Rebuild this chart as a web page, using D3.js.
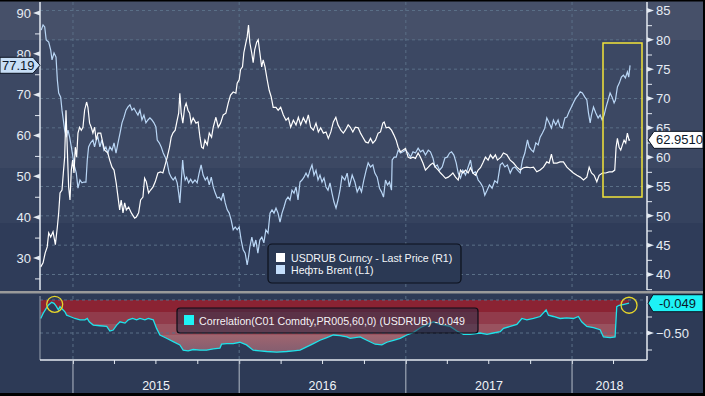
<!DOCTYPE html>
<html>
<head>
<meta charset="utf-8">
<script src="https://cdnjs.cloudflare.com/ajax/libs/d3/7.8.5/d3.min.js"></script>
<style>
  body { margin: 0; background: #000; }
  svg { display: block; }
  text { font-family: "Liberation Sans", Arial, sans-serif; }
</style>
</head>
<body>
<div id="wrapper"></div>
<script>
// [decimal year, value]
const usdrub = [
  [2014.806,41.3],[2014.820,42.0],[2014.833,43.7],[2014.845,44.7],[2014.854,47.1],[2014.866,46.4],[2014.880,47.3],[2014.894,45.1],
  [2014.906,48.1],[2014.914,50.5],[2014.922,53.9],[2014.934,54.4],[2014.942,57.3],[2014.950,60.0],[2014.958,68.0],[2014.966,61.2],
  [2014.974,54.9],[2014.982,52.7],[2014.990,57.8],[2014.998,59.5],[2015.006,57.3],[2015.014,61.7],[2015.022,60.0],[2015.030,64.1],
  [2015.040,65.1],[2015.050,64.6],[2015.060,65.1],[2015.070,68.0],[2015.082,69.4],[2015.090,68.5],[2015.100,65.8],[2015.110,65.1],
  [2015.120,64.1],[2015.130,65.1],[2015.140,62.9],[2015.150,64.1],[2015.167,64.1],[2015.180,62.4],[2015.191,61.2],[2015.210,60.7],
  [2015.221,59.5],[2015.235,58.3],[2015.247,57.8],[2015.260,55.6],[2015.271,53.2],[2015.281,51.0],[2015.290,52.7],[2015.301,50.5],
  [2015.311,52.2],[2015.321,51.0],[2015.335,51.5],[2015.351,50.5],[2015.371,49.6],[2015.381,49.8],[2015.395,50.5],[2015.407,52.7],
  [2015.421,53.2],[2015.431,56.4],[2015.441,55.8],[2015.455,53.9],[2015.467,54.4],[2015.481,54.9],[2015.495,55.8],[2015.511,57.3],
  [2015.527,57.5],[2015.541,57.3],[2015.551,58.3],[2015.567,60.0],[2015.581,61.7],[2015.591,63.4],[2015.601,64.1],[2015.615,64.6],
  [2015.627,66.3],[2015.636,67.5],[2015.643,70.9],[2015.651,67.5],[2015.661,65.8],[2015.672,68.5],[2015.681,69.2],[2015.692,68.0],
  [2015.702,67.5],[2015.711,65.8],[2015.723,66.7],[2015.740,65.8],[2015.753,66.0],[2015.764,63.4],[2015.774,61.7],[2015.784,61.5],
  [2015.794,62.9],[2015.808,62.1],[2015.820,64.1],[2015.834,63.4],[2015.844,65.1],[2015.860,66.8],[2015.874,65.1],[2015.888,65.8],
  [2015.904,67.2],[2015.920,67.5],[2015.934,69.2],[2015.948,70.6],[2015.964,71.1],[2015.980,70.9],[2015.988,72.6],[2016.000,73.2],
  [2016.008,74.9],[2016.020,75.4],[2016.028,77.8],[2016.040,79.5],[2016.048,80.5],[2016.056,82.5],[2016.064,79.5],[2016.075,77.8],
  [2016.084,76.1],[2016.093,78.3],[2016.105,79.6],[2016.114,80.0],[2016.124,77.8],[2016.135,75.4],[2016.144,76.6],[2016.155,75.4],
  [2016.168,73.2],[2016.180,71.4],[2016.192,70.3],[2016.204,68.5],[2016.221,68.5],[2016.234,68.0],[2016.249,68.5],[2016.265,67.2],
  [2016.281,66.3],[2016.295,66.7],[2016.309,65.1],[2016.325,66.3],[2016.341,65.5],[2016.355,66.8],[2016.369,65.5],[2016.385,66.7],
  [2016.401,65.8],[2016.415,67.2],[2016.429,65.1],[2016.445,64.6],[2016.461,65.8],[2016.475,64.3],[2016.489,65.0],[2016.505,64.1],
  [2016.521,64.3],[2016.535,63.2],[2016.550,64.3],[2016.565,66.0],[2016.580,66.8],[2016.593,65.5],[2016.610,64.6],[2016.625,64.1],
  [2016.637,64.6],[2016.654,65.5],[2016.667,65.1],[2016.682,64.3],[2016.697,65.1],[2016.714,65.0],[2016.728,64.1],[2016.742,63.4],
  [2016.758,62.6],[2016.774,62.4],[2016.788,63.2],[2016.802,62.4],[2016.818,62.9],[2016.834,64.1],[2016.848,64.3],[2016.862,65.8],
  [2016.870,66.0],[2016.882,65.0],[2016.898,65.1],[2016.914,64.6],[2016.928,63.8],[2016.942,62.9],[2016.954,61.7],[2016.968,60.9],
  [2016.982,61.2],[2016.998,61.5],[2017.014,60.0],[2017.028,59.8],[2017.043,60.0],[2017.058,59.8],[2017.074,60.7],[2017.088,60.0],
  [2017.103,59.0],[2017.118,57.8],[2017.135,58.3],[2017.148,58.7],[2017.163,59.0],[2017.178,58.3],[2017.195,57.8],[2017.209,57.3],
  [2017.223,56.9],[2017.239,56.4],[2017.255,56.6],[2017.269,56.9],[2017.283,57.3],[2017.299,56.6],[2017.315,56.1],[2017.329,57.8],
  [2017.343,57.3],[2017.359,57.8],[2017.375,57.3],[2017.389,58.2],[2017.403,57.3],[2017.419,56.9],[2017.435,57.8],[2017.449,58.2],
  [2017.463,59.0],[2017.479,60.0],[2017.495,59.5],[2017.509,60.4],[2017.524,59.8],[2017.539,60.4],[2017.551,59.5],[2017.572,60.0],
  [2017.587,60.7],[2017.608,60.4],[2017.628,59.5],[2017.648,59.0],[2017.668,58.3],[2017.688,57.8],[2017.708,58.2],[2017.728,58.3],
  [2017.748,58.2],[2017.768,58.3],[2017.788,57.5],[2017.808,57.8],[2017.828,58.3],[2017.848,59.2],[2017.862,59.0],[2017.876,60.5],
  [2017.888,59.0],[2017.909,59.0],[2017.928,59.2],[2017.948,59.2],[2017.969,58.3],[2017.988,57.8],[2018.008,57.3],[2018.029,56.9],
  [2018.049,56.6],[2018.069,56.1],[2018.089,56.6],[2018.103,58.3],[2018.117,57.3],[2018.133,56.9],[2018.149,55.8],[2018.163,56.9],
  [2018.183,57.3],[2018.203,57.3],[2018.223,57.5],[2018.243,57.5],[2018.257,57.8],[2018.265,61.7],[2018.273,63.2],[2018.283,61.7],
  [2018.293,61.2],[2018.303,62.1],[2018.313,62.9],[2018.323,62.4],[2018.333,64.1],[2018.343,62.9],[2018.349,62.951]
]

const brent = [
  [2014.809,85.8],[2014.820,87.1],[2014.830,86.6],[2014.839,83.4],[2014.854,82.9],[2014.866,80.9],[2014.874,78.5],[2014.886,80.2],
  [2014.898,79.2],[2014.906,73.6],[2014.914,70.4],[2014.926,69.4],[2014.934,66.2],[2014.942,63.8],[2014.950,61.3],[2014.960,59.6],
  [2014.970,61.3],[2014.980,59.6],[2014.990,57.2],[2015.000,54.7],[2015.010,52.3],[2015.020,50.8],[2015.030,47.1],[2015.042,49.1],
  [2015.054,48.4],[2015.066,48.6],[2015.078,48.6],[2015.086,54.0],[2015.094,57.2],[2015.106,58.2],[2015.120,58.9],[2015.130,57.2],
  [2015.140,58.9],[2015.150,59.6],[2015.162,57.2],[2015.174,58.9],[2015.186,56.4],[2015.198,57.2],[2015.210,55.7],[2015.222,57.2],
  [2015.235,56.4],[2015.247,58.2],[2015.259,55.7],[2015.271,58.2],[2015.283,60.6],[2015.295,63.1],[2015.307,64.5],[2015.319,66.2],
  [2015.331,67.0],[2015.343,67.5],[2015.355,66.2],[2015.367,66.7],[2015.379,65.8],[2015.391,65.0],[2015.403,66.2],[2015.415,63.8],
  [2015.427,65.0],[2015.439,63.1],[2015.451,63.8],[2015.463,64.3],[2015.475,63.8],[2015.487,63.1],[2015.499,62.1],[2015.507,58.9],
  [2015.519,58.2],[2015.531,57.2],[2015.543,55.7],[2015.555,54.7],[2015.567,53.3],[2015.579,50.8],[2015.591,49.8],[2015.603,49.1],
  [2015.615,49.8],[2015.627,48.4],[2015.636,45.9],[2015.643,43.5],[2015.651,48.4],[2015.660,54.0],[2015.667,50.8],[2015.675,49.1],
  [2015.684,49.8],[2015.696,48.4],[2015.708,49.3],[2015.720,48.4],[2015.734,49.1],[2015.747,48.4],[2015.759,50.8],[2015.771,52.8],
  [2015.783,50.3],[2015.796,49.1],[2015.808,49.8],[2015.820,47.9],[2015.832,49.8],[2015.844,47.4],[2015.856,45.9],[2015.868,44.7],
  [2015.880,44.9],[2015.892,44.2],[2015.904,45.9],[2015.916,43.5],[2015.928,41.8],[2015.940,41.0],[2015.952,39.3],[2015.964,36.9],
  [2015.976,37.6],[2015.988,36.9],[2016.000,37.6],[2016.012,34.4],[2016.024,32.0],[2016.036,31.2],[2016.048,28.3],[2016.056,30.2],
  [2016.064,32.7],[2016.076,35.1],[2016.088,32.7],[2016.100,34.4],[2016.112,31.2],[2016.124,34.4],[2016.136,35.1],[2016.148,33.7],
  [2016.160,36.9],[2016.173,36.1],[2016.185,41.0],[2016.197,41.8],[2016.209,41.0],[2016.221,42.2],[2016.233,41.0],[2016.245,38.8],
  [2016.257,41.0],[2016.269,42.5],[2016.281,44.2],[2016.293,44.9],[2016.305,44.2],[2016.317,46.6],[2016.329,45.9],[2016.341,47.4],
  [2016.353,44.2],[2016.365,48.6],[2016.377,49.1],[2016.389,49.8],[2016.401,50.8],[2016.413,49.8],[2016.425,51.5],[2016.437,52.8],
  [2016.449,50.3],[2016.461,51.5],[2016.473,49.1],[2016.485,50.3],[2016.497,48.6],[2016.509,49.6],[2016.521,47.4],[2016.533,46.6],
  [2016.545,48.4],[2016.557,45.9],[2016.569,43.7],[2016.581,42.2],[2016.593,44.2],[2016.605,46.6],[2016.617,50.0],[2016.634,49.1],
  [2016.648,50.8],[2016.661,47.4],[2016.678,50.3],[2016.694,48.6],[2016.708,46.2],[2016.722,47.4],[2016.734,46.2],[2016.748,49.1],
  [2016.762,51.5],[2016.774,53.3],[2016.788,52.3],[2016.802,52.8],[2016.814,50.8],[2016.828,49.8],[2016.842,47.1],[2016.854,46.2],
  [2016.866,44.9],[2016.878,49.1],[2016.890,47.9],[2016.902,48.6],[2016.914,46.6],[2016.918,54.0],[2016.930,54.7],[2016.942,54.7],
  [2016.954,56.4],[2016.968,55.7],[2016.982,56.0],[2016.998,56.4],[2017.014,55.7],[2017.028,54.7],[2017.043,56.0],[2017.058,55.7],
  [2017.074,56.9],[2017.088,56.0],[2017.103,56.4],[2017.118,55.2],[2017.135,56.4],[2017.148,56.0],[2017.163,54.5],[2017.175,52.3],
  [2017.189,52.8],[2017.203,51.5],[2017.219,52.3],[2017.235,54.5],[2017.249,54.7],[2017.263,55.7],[2017.275,56.0],[2017.289,55.2],
  [2017.303,53.3],[2017.315,50.8],[2017.329,49.6],[2017.343,51.5],[2017.359,50.3],[2017.375,52.3],[2017.389,54.0],[2017.403,50.8],
  [2017.419,51.1],[2017.435,49.1],[2017.449,48.4],[2017.463,47.4],[2017.475,45.4],[2017.489,46.6],[2017.503,47.9],[2017.519,47.1],
  [2017.535,48.9],[2017.551,48.4],[2017.568,52.8],[2017.581,53.3],[2017.596,52.3],[2017.611,52.8],[2017.628,50.8],[2017.642,52.0],
  [2017.656,52.3],[2017.672,51.5],[2017.688,50.8],[2017.702,54.0],[2017.716,55.7],[2017.732,58.9],[2017.742,57.2],[2017.756,56.4],
  [2017.768,56.0],[2017.782,58.2],[2017.796,57.7],[2017.808,59.6],[2017.822,60.6],[2017.836,61.8],[2017.848,64.3],[2017.862,63.1],
  [2017.876,61.8],[2017.888,63.8],[2017.902,62.6],[2017.916,63.8],[2017.928,62.1],[2017.942,61.8],[2017.957,64.3],[2017.969,64.5],
  [2017.982,65.8],[2017.996,67.0],[2018.008,68.0],[2018.023,69.2],[2018.037,69.9],[2018.049,70.7],[2018.062,70.4],[2018.077,69.4],
  [2018.089,68.7],[2018.099,65.5],[2018.109,63.1],[2018.117,65.0],[2018.129,67.0],[2018.143,65.5],[2018.157,64.3],[2018.169,65.0],
  [2018.181,63.8],[2018.193,65.0],[2018.205,67.0],[2018.217,68.7],[2018.229,70.4],[2018.241,69.4],[2018.253,68.0],[2018.261,68.7],
  [2018.273,71.9],[2018.285,72.9],[2018.297,74.3],[2018.309,74.8],[2018.321,74.1],[2018.333,75.6],[2018.341,74.3],[2018.349,77.19]
]

const correlation = [
  [2014.806,-0.28],[2014.821,-0.20],[2014.838,-0.13],[2014.851,-0.08],[2014.872,-0.035],[2014.886,-0.05],[2014.898,-0.09],
  [2014.912,-0.15],[2014.922,-0.10],[2014.932,-0.13],[2014.952,-0.18],[2014.962,-0.23],[2014.982,-0.25],[2015.012,-0.28],
  [2015.042,-0.30],[2015.072,-0.30],[2015.086,-0.28],[2015.098,-0.33],[2015.122,-0.38],[2015.162,-0.39],[2015.203,-0.40],
  [2015.222,-0.47],[2015.242,-0.455],[2015.263,-0.38],[2015.283,-0.33],[2015.313,-0.35],[2015.333,-0.30],[2015.359,-0.28],
  [2015.383,-0.30],[2015.403,-0.28],[2015.433,-0.30],[2015.453,-0.28],[2015.483,-0.30],[2015.503,-0.43],[2015.523,-0.53],
  [2015.563,-0.58],[2015.603,-0.63],[2015.643,-0.68],[2015.663,-0.76],[2015.693,-0.77],[2015.723,-0.75],[2015.764,-0.76],
  [2015.804,-0.76],[2015.844,-0.74],[2015.884,-0.73],[2015.894,-0.67],[2015.924,-0.66],[2015.964,-0.66],[2016.004,-0.64],
  [2016.044,-0.68],[2016.084,-0.76],[2016.124,-0.77],[2016.165,-0.78],[2016.225,-0.79],[2016.285,-0.78],[2016.325,-0.77],
  [2016.365,-0.76],[2016.405,-0.71],[2016.445,-0.66],[2016.485,-0.61],[2016.526,-0.57],[2016.565,-0.53],[2016.605,-0.54],
  [2016.646,-0.56],[2016.666,-0.58],[2016.726,-0.56],[2016.766,-0.61],[2016.816,-0.67],[2016.856,-0.68],[2016.886,-0.64],
  [2016.926,-0.61],[2016.966,-0.58],[2017.006,-0.53],[2017.046,-0.49],[2017.087,-0.42],[2017.127,-0.37],[2017.167,-0.33],
  [2017.207,-0.37],[2017.267,-0.40],[2017.307,-0.47],[2017.347,-0.52],[2017.387,-0.52],[2017.447,-0.50],[2017.488,-0.52],
  [2017.527,-0.50],[2017.568,-0.48],[2017.588,-0.43],[2017.628,-0.40],[2017.668,-0.37],[2017.698,-0.28],[2017.728,-0.30],
  [2017.768,-0.28],[2017.808,-0.25],[2017.844,-0.15],[2017.858,-0.23],[2017.888,-0.25],[2017.928,-0.28],[2017.968,-0.27],
  [2018.008,-0.28],[2018.038,-0.25],[2018.058,-0.33],[2018.089,-0.40],[2018.129,-0.42],[2018.169,-0.45],[2018.189,-0.56],
  [2018.229,-0.57],[2018.259,-0.56],[2018.269,-0.10],[2018.283,-0.08],[2018.313,-0.065],[2018.343,-0.049]
]

const leftTicks = [30, 40, 50, 60, 70, 80, 90]
const rightTicks = [40, 45, 50, 55, 60, 65, 70, 75, 80, 85]
const corrTicks = [-0.5]
const years = [2015, 2016, 2017, 2018]
const lastBrent = '77.19'
const lastUsdrub = '62.9510'
const lastCorr = '-0.049'
const legendMain = ['USDRUB Curncy - Last Price (R1)', 'Нефть Brent (L1)']
const legendCorr = 'Correlation(C01 Comdty,PR005,60,0) (USDRUB) -0.049'

function draw() {
  const toDate = t => {
    const y = Math.floor(t)
    const a = new Date(y, 0, 1), b = new Date(y + 1, 0, 1)
    return new Date(+a + (t - y) * (b - a))
  }

  const dims = { width: 705, height: 396, left: 40, right: 647, top: 2, bottom: 290, lowTop: 296, lowBottom: 360 }

  const xScale = d3.scaleTime()
    .domain([toDate(2014.8016), toDate(2018.451)])
    .range([dims.left, dims.right])
  const yLeft = d3.scaleLinear().domain([30, 90]).range([258, 13])
  const yRight = d3.scaleLinear().domain([40, 85]).range([274.5, 10.5])
  const yCorr = d3.scaleLinear().domain([-0.5, 0]).range([333, 300])

  const svg = d3.select('#wrapper').append('svg')
    .attr('width', dims.width)
    .attr('height', dims.height)

  const defs = svg.append('defs')
  defs.append('clipPath').attr('id', 'clipMain').append('rect')
    .attr('x', dims.left).attr('y', dims.top)
    .attr('width', dims.right - dims.left).attr('height', dims.bottom - dims.top)
  defs.append('clipPath').attr('id', 'clipLow').append('rect')
    .attr('x', dims.left).attr('y', dims.lowTop)
    .attr('width', dims.right - dims.left).attr('height', dims.lowBottom - dims.lowTop)

  const grad = defs.append('linearGradient').attr('id', 'redFill')
    .attr('gradientUnits', 'userSpaceOnUse')
    .attr('x1', 0).attr('y1', 300).attr('x2', 0).attr('y2', 356)
  ;[[0, '#8b2333'], [0.22, '#8b2333'], [0.22, '#913b4b'], [0.42, '#913b4b'], [0.42, '#99525f'],
    [0.62, '#99525f'], [0.62, '#a0656f'], [1, '#7d5c70']]
    .forEach(([o, c]) => grad.append('stop').attr('offset', o).attr('stop-color', c))

  // background bands
  const bands = [[0, 40, '#465069'], [40, 168, '#3c4863'], [168, 223, '#35425e'], [223, 291, '#2f3c59'], [291, 396, '#2d3a56']]
  svg.selectAll('rect.band').data(bands).join('rect')
    .attr('x', 0).attr('y', d => d[0]).attr('width', dims.width).attr('height', d => d[1] - d[0])
    .attr('fill', d => d[2])
  svg.append('rect').attr('x', 0).attr('y', 0).attr('width', dims.width).attr('height', 1.5).attr('fill', '#000')
  svg.append('rect').attr('x', 703).attr('y', 0).attr('width', 2).attr('height', dims.height).attr('fill', '#000')
  svg.append('rect').attr('x', 0).attr('y', 393).attr('width', dims.width).attr('height', 3).attr('fill', '#000')

  const gridColor = '#5a6f87'

  // grid main
  svg.append('g').selectAll('line').data(rightTicks).join('line')
    .attr('x1', dims.left).attr('x2', dims.right)
    .attr('y1', d => yRight(d)).attr('y2', d => yRight(d))
    .attr('stroke', gridColor).attr('stroke-dasharray', '3,3')
  const yearLines = years.map(y => xScale(new Date(y, 0, 1)))
  svg.append('g').selectAll('line').data(yearLines).join('line')
    .attr('x1', d => d).attr('x2', d => d).attr('y1', dims.top).attr('y2', dims.bottom)
    .attr('stroke', gridColor).attr('stroke-dasharray', '3,3')
  svg.append('g').selectAll('line').data(yearLines).join('line')
    .attr('x1', d => d).attr('x2', d => d).attr('y1', dims.lowTop).attr('y2', dims.lowBottom)
    .attr('stroke', gridColor).attr('stroke-dasharray', '3,3')

  // lower panel fill + grid
  const low = svg.append('g').attr('clip-path', 'url(#clipLow)')
  low.append('path').datum(correlation)
    .attr('d', d3.area().x(d => xScale(toDate(d[0]))).y0(yCorr(0)).y1(d => yCorr(Math.min(0, d[1]))))
    .attr('fill', 'url(#redFill)')
  low.selectAll('line.g').data([0, -0.5]).join('line')
    .attr('x1', dims.left).attr('x2', dims.right)
    .attr('y1', d => yCorr(d)).attr('y2', d => yCorr(d))
    .attr('stroke', gridColor).attr('stroke-dasharray', '3,3')
  low.append('path').datum(correlation)
    .attr('d', d3.line().x(d => xScale(toDate(d[0]))).y(d => yCorr(d[1])))
    .attr('fill', 'none').attr('stroke', '#1fe3ea').attr('stroke-width', 1.3)

  // price lines
  const main = svg.append('g').attr('clip-path', 'url(#clipMain)')
  main.append('path').datum(brent)
    .attr('d', d3.line().x(d => xScale(toDate(d[0]))).y(d => yLeft(d[1])))
    .attr('fill', 'none').attr('stroke', '#b9d6f5').attr('stroke-width', 1.2)
  main.append('path').datum(usdrub)
    .attr('d', d3.line().x(d => xScale(toDate(d[0]))).y(d => yRight(d[1])))
    .attr('fill', 'none').attr('stroke', '#ffffff').attr('stroke-width', 1.2)

  // separator
  svg.append('rect').attr('x', 0).attr('y', 291).attr('width', 703).attr('height', 2.5).attr('fill', '#9a9a9a')

  const axisColor = '#e4eaf2'
  const labelColor = '#e6ecf4'

  // left axis
  const leftAxis = svg.append('g').attr('transform', `translate(${dims.left},0)`)
    .call(d3.axisLeft(yLeft).tickValues(leftTicks).tickSize(0).tickPadding(9))
  leftAxis.select('.domain').remove()
  leftAxis.selectAll('text').attr('fill', labelColor).style('font-size', '13px')
  svg.append('g').attr('transform', `translate(${dims.left},0)`)
    .call(d3.axisLeft(yLeft).tickValues(d3.range(25, 90, 10)).tickSize(5).tickFormat(''))
    .call(g => g.select('.domain').remove())
    .selectAll('line').attr('stroke', axisColor)
  svg.append('g').selectAll('path').data(leftTicks).join('path')
    .attr('d', d => `M${dims.left},${yLeft(d) - 2.5}L${dims.left - 7},${yLeft(d)}L${dims.left},${yLeft(d) + 2.5}Z`)
    .attr('fill', axisColor)
  svg.append('line').attr('x1', dims.left).attr('x2', dims.left).attr('y1', dims.top).attr('y2', dims.bottom)
    .attr('stroke', axisColor).attr('stroke-width', 1.5)
  svg.append('line').attr('x1', dims.left).attr('x2', dims.left).attr('y1', dims.lowTop).attr('y2', dims.lowBottom)
    .attr('stroke', '#9aa3b0').attr('stroke-width', 1)

  // right axis
  const rightAxis = svg.append('g').attr('transform', `translate(${dims.right},0)`)
    .call(d3.axisRight(yRight).tickValues(rightTicks).tickSize(0).tickPadding(9))
  rightAxis.select('.domain').remove()
  rightAxis.selectAll('text').attr('fill', labelColor).style('font-size', '13px')
  svg.append('g').attr('transform', `translate(${dims.right},0)`)
    .call(d3.axisRight(yRight).tickValues(d3.range(37.5, 85, 5)).tickSize(5).tickFormat(''))
    .call(g => g.select('.domain').remove())
    .selectAll('line').attr('stroke', axisColor)
  svg.append('g').selectAll('path').data(rightTicks).join('path')
    .attr('d', d => `M${dims.right},${yRight(d) - 2.5}L${dims.right + 7},${yRight(d)}L${dims.right},${yRight(d) + 2.5}Z`)
    .attr('fill', axisColor)
  svg.append('line').attr('x1', dims.right).attr('x2', dims.right).attr('y1', dims.top).attr('y2', dims.bottom)
    .attr('stroke', axisColor).attr('stroke-width', 1.5)

  // lower right axis
  const corrAxis = svg.append('g').attr('transform', `translate(${dims.right},0)`)
    .call(d3.axisRight(yCorr).tickValues(corrTicks).tickSize(0).tickPadding(9).tickFormat(d3.format('.2f')))
  corrAxis.select('.domain').remove()
  corrAxis.selectAll('text').attr('fill', labelColor).style('font-size', '13px').text(d => d3.format('.2f')(d).replace('-', '-'))
  svg.append('g').attr('transform', `translate(${dims.right},0)`)
    .call(d3.axisRight(yCorr).tickValues([-0.25, -0.75]).tickSize(5).tickFormat(''))
    .call(g => g.select('.domain').remove())
    .selectAll('line').attr('stroke', axisColor)
  svg.append('g').selectAll('path').data(corrTicks).join('path')
    .attr('d', d => `M${dims.right},${yCorr(d) - 2.5}L${dims.right + 7},${yCorr(d)}L${dims.right},${yCorr(d) + 2.5}Z`)
    .attr('fill', axisColor)
  svg.append('line').attr('x1', dims.right).attr('x2', dims.right).attr('y1', dims.lowTop).attr('y2', dims.lowBottom)
    .attr('stroke', axisColor).attr('stroke-width', 1.5)

  // bottom axis
  const bottomAxis = svg.append('g').attr('transform', `translate(0,${dims.lowBottom})`)
    .call(d3.axisBottom(xScale).ticks(d3.timeMonth.every(3)).tickSize(4).tickFormat(''))
  bottomAxis.select('.domain').attr('stroke', axisColor).attr('stroke-width', 1.5)
    .attr('d', `M${dims.left},0H${dims.right}`)
  bottomAxis.selectAll('.tick line').attr('stroke', axisColor)
  svg.append('g').selectAll('line').data(yearLines).join('line')
    .attr('x1', d => d).attr('x2', d => d).attr('y1', dims.lowBottom).attr('y2', 393)
    .attr('stroke', '#b4bcc8').attr('stroke-width', 1)
  const [d0, d1] = xScale.domain()
  svg.append('g').selectAll('text').data(years).join('text')
    .attr('x', y => {
      const a = d3.max([new Date(y, 0, 1), d0]), b = d3.min([new Date(y + 1, 0, 1), d1])
      return (xScale(a) + xScale(b)) / 2
    })
    .attr('y', 390)
    .attr('text-anchor', 'middle')
    .attr('fill', '#f0f3f8').style('font-size', '12.5px')
    .text(d => d)

  // last value tags
  const yb = yLeft(+lastBrent)
  svg.append('path')
    .attr('d', `M0,${yb - 8}H33L${dims.left},${yb}L33,${yb + 8}H0Z`)
    .attr('fill', '#c7def6').attr('stroke', '#0a1322')
  svg.append('text').attr('x', 2).attr('y', yb + 4.5).attr('fill', '#0b1729').style('font-size', '13px').text(lastBrent)

  const yu = yRight(+lastUsdrub)
  svg.append('path')
    .attr('d', `M${dims.right + 1},${yu}L654,${yu - 8.5}H703V${yu + 8.5}H654Z`)
    .attr('fill', '#ffffff').attr('stroke', '#0a1322')
  svg.append('text').attr('x', 656).attr('y', yu + 4.5).attr('fill', '#0b1729').style('font-size', '13px').text(lastUsdrub)

  const yc = yCorr(+lastCorr)
  svg.append('path')
    .attr('d', `M${dims.right + 1},${yc}L653,${yc - 8.5}H703V${yc + 8.5}H653Z`)
    .attr('fill', '#1ef2f6').attr('stroke', '#0a1322')
  svg.append('text').attr('x', 659).attr('y', yc + 4.5).attr('fill', '#0b1729').style('font-size', '13px').text(lastCorr)

  // highlights
  svg.append('rect').attr('x', 603).attr('y', 43).attr('width', 39).attr('height', 154)
    .attr('fill', 'none').attr('stroke', '#f2e43a').attr('stroke-width', 1.5)
  const circles = [correlation[4], correlation[correlation.length - 1]]
  svg.selectAll('circle.mark').data(circles).join('circle')
    .attr('cx', (d, i) => xScale(toDate(d[0])) + (i === 0 ? 3 : 0))
    .attr('cy', d => yCorr(d[1]) + 2)
    .attr('r', 8)
    .attr('fill', 'none').attr('stroke', '#e6d52a').attr('stroke-width', 1.3)

  // legend main
  const leg = svg.append('g')
  leg.append('rect').attr('x', 268).attr('y', 244).attr('width', 193).attr('height', 39).attr('rx', 4)
    .attr('fill', '#2b3954').attr('stroke', '#0c111c').attr('stroke-width', 1.2)
  leg.selectAll('rect.sw').data(['#ffffff', '#c4defa']).join('rect')
    .attr('x', 276).attr('y', (d, i) => 253 + i * 12).attr('width', 9).attr('height', 9).attr('fill', d => d)
  leg.selectAll('text').data(legendMain).join('text')
    .attr('x', 291).attr('y', (d, i) => 261.5 + i * 12.5)
    .attr('fill', '#f2f5f9').style('font-size', '10.6px')
    .text(d => d)

  // legend correlation
  const leg2 = svg.append('g')
  leg2.append('rect').attr('x', 177).attr('y', 308).attr('width', 301).attr('height', 25).attr('rx', 3)
    .attr('fill', 'rgba(48,44,70,0.55)').attr('stroke', '#0c0d16').attr('stroke-width', 1.2)
  leg2.append('rect').attr('x', 184).attr('y', 315).attr('width', 10).attr('height', 10).attr('fill', '#1ef2f6')
  leg2.append('text').attr('x', 199).attr('y', 324.5).attr('fill', '#f2f2f6').style('font-size', '10.7px').text(legendCorr)
}

draw()
</script>
</body>
</html>
